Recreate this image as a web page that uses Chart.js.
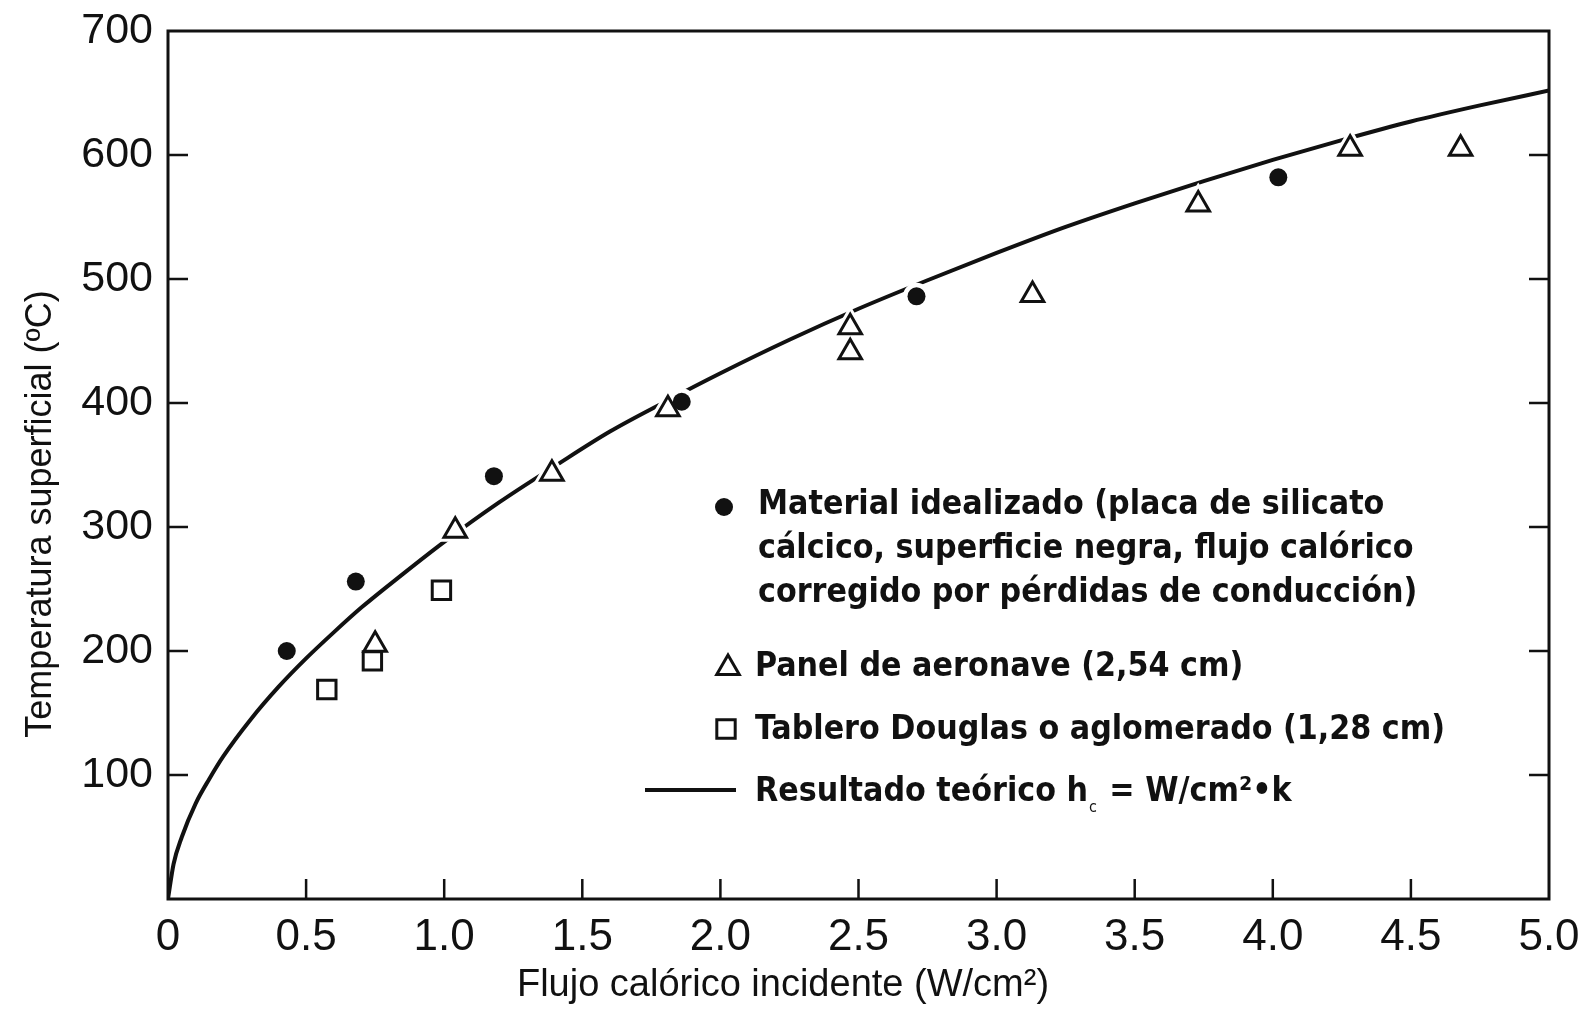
<!doctype html>
<html>
<head>
<meta charset="utf-8">
<title>Temperatura superficial vs flujo calórico</title>
<script src="https://cdn.jsdelivr.net/npm/chart.js@4.4.1/dist/chart.umd.min.js"></script>
<style>
  html, body { margin: 0; padding: 0; background: #fff; }
  canvas { display: block; }
</style>
</head>
<body>
<canvas id="canvas" width="1590" height="1009"></canvas>
<script>
// Material idealizado (círculos negros)
var idealX = [0.43, 0.68, 1.18, 1.86, 2.71, 4.02];
var idealY = [200, 256, 341, 401, 486, 582];

// Panel de aeronave (triángulos)
var panelX = [0.75, 1.04, 1.39, 1.81, 2.47, 2.47, 3.13, 3.73, 4.28, 4.68];
var panelY = [205, 297, 343, 395, 461, 441, 487, 560, 605, 605];

// Tablero Douglas o aglomerado (cuadrados)
var tableroX = [0.575, 0.74, 0.99];
var tableroY = [169, 192, 249];

// Resultado teórico (curva)
var teoricoX = [0, 0.02, 0.05, 0.1, 0.15, 0.2, 0.3, 0.4, 0.5, 0.6, 0.7, 0.85, 1.0, 1.2, 1.4, 1.6, 1.8, 2.0,
                2.25, 2.5, 2.75, 3.0, 3.25, 3.5, 3.75, 4.0, 4.25, 4.5, 4.75, 5.0];
var teoricoY = [0, 28, 50, 77, 97, 115, 145, 171, 194, 215, 235, 262, 288, 320, 349, 377, 401, 424,
                451, 476, 499, 521, 542, 561, 579, 596, 612, 627, 640, 652];

var xTitle = 'Flujo calórico incidente (W/cm²)';
var yTitle = 'Temperatura superficial (ºC)';

var legendIdeal = ['Material idealizado (placa de silicato',
                   'cálcico, superficie negra, flujo calórico',
                   'corregido por pérdidas de conducción)'];
var legendPanel = 'Panel de aeronave (2,54 cm)';
var legendTablero = 'Tablero Douglas o aglomerado (1,28 cm)';
var legendTeorico = ['Resultado teórico h', 'c', ' = W/cm²•', 'k'];

var INK = '#111';
var LEGEND_FAMILY = '"DejaVu Sans Condensed", "DejaVu Sans", sans-serif';
var AXIS_FAMILY = '"Liberation Sans", Arial, sans-serif';

function pts(xs, ys) {
    return xs.map(function(x, i) { return {x: x, y: ys[i]}; });
}

// white gaps in the curve where markers sit on it
var haloPlugin = {
    id: 'halo',
    afterDatasetDraw: function(chart, args) {
        if (args.index !== 0) return;
        var ctx = chart.ctx;
        ctx.save();
        ctx.fillStyle = '#fff';
        ctx.strokeStyle = '#fff';
        ctx.lineWidth = 9;
        [1, 2, 3].forEach(function(di) {
            var ds = chart.data.datasets[di];
            chart.getDatasetMeta(di).data.forEach(function(el) {
                Chart.helpers.drawPoint(ctx, {pointStyle: ds.pointStyle, radius: ds.pointRadius, rotation: 0, borderWidth: 9}, el.x, el.y);
            });
        });
        ctx.restore();
    }
};

// box with inward ticks
var framePlugin = {
    id: 'frame',
    beforeDatasetsDraw: function(chart) {
        var ctx = chart.ctx, a = chart.chartArea;
        var xs = chart.scales.x, ys = chart.scales.y;
        ctx.save();
        ctx.strokeStyle = INK;
        ctx.lineWidth = 3;
        ctx.strokeRect(a.left, a.top, a.right - a.left, a.bottom - a.top);
        ctx.lineWidth = 2.5;
        ctx.beginPath();
        ys.ticks.forEach(function(t) {
            if (t.value <= ys.min || t.value >= ys.max) return;
            var y = ys.getPixelForValue(t.value);
            ctx.moveTo(a.left, y); ctx.lineTo(a.left + 20, y);
            ctx.moveTo(a.right, y); ctx.lineTo(a.right - 20, y);
        });
        xs.ticks.forEach(function(t) {
            if (t.value <= xs.min || t.value >= xs.max) return;
            var x = xs.getPixelForValue(t.value);
            ctx.moveTo(x, a.bottom); ctx.lineTo(x, a.bottom - 20);
        });
        ctx.stroke();
        ctx.restore();
    }
};

// axis titles and the legend inside the plot
var textPlugin = {
    id: 'texts',
    afterDraw: function(chart) {
        var ctx = chart.ctx;
        ctx.save();
        ctx.fillStyle = INK;
        ctx.textAlign = 'center';
        ctx.textBaseline = 'middle';
        ctx.font = '38px ' + AXIS_FAMILY;
        ctx.fillText(xTitle, 783, 986);
        ctx.save();
        ctx.translate(41, 514);
        ctx.rotate(-Math.PI / 2);
        ctx.font = '36px ' + AXIS_FAMILY;
        ctx.fillText(yTitle, 0, 0);
        ctx.restore();

        // legend font sized so the first line is as wide as in the figure
        ctx.font = 'bold 34px ' + LEGEND_FAMILY;
        var size = Math.min(36, 34 * 626 / ctx.measureText(legendIdeal[0]).width);
        var font = 'bold ' + size.toFixed(1) + 'px ' + LEGEND_FAMILY;

        // markers
        ctx.strokeStyle = INK;
        ctx.lineWidth = 3;
        Chart.helpers.drawPoint(ctx, {pointStyle: 'circle', radius: 9, borderWidth: 0, rotation: 0}, 724, 507);
        ctx.fillStyle = '#fff';
        Chart.helpers.drawPoint(ctx, {pointStyle: 'triangle', radius: 13, borderWidth: 3, rotation: 0}, 728, 668);
        Chart.helpers.drawPoint(ctx, {pointStyle: 'rect', radius: 13, borderWidth: 3, rotation: 0}, 726, 729);
        ctx.lineWidth = 4;
        ctx.beginPath();
        ctx.moveTo(645, 790); ctx.lineTo(736, 790);
        ctx.stroke();

        ctx.fillStyle = INK;
        ctx.textAlign = 'left';
        ctx.font = font;
        legendIdeal.forEach(function(line, i) {
            ctx.fillText(line, 758, 505 + i * 44);
        });
        ctx.fillText(legendPanel, 755, 667);
        ctx.fillText(legendTablero, 755, 730);

        var x = 755;
        ctx.fillText(legendTeorico[0], x, 792);
        x += ctx.measureText(legendTeorico[0]).width;
        ctx.font = '16px ' + LEGEND_FAMILY;
        ctx.fillText(legendTeorico[1], x + 1, 808);
        x += ctx.measureText(legendTeorico[1]).width + 3;
        ctx.font = font;
        ctx.fillText(legendTeorico[2], x, 792);
        x += ctx.measureText(legendTeorico[2]).width;
        ctx.fillText(legendTeorico[3], x, 792);
        ctx.restore();
    }
};

var config = {
    type: 'scatter',
    data: {
        datasets: [{
            label: 'Resultado teórico',
            data: pts(teoricoX, teoricoY),
            showLine: true,
            borderColor: INK,
            borderWidth: 4,
            pointRadius: 0,
            cubicInterpolationMode: 'monotone',
            order: 10
        }, {
            label: 'Material idealizado',
            data: pts(idealX, idealY),
            pointStyle: 'circle',
            pointRadius: 9,
            backgroundColor: INK,
            borderColor: INK,
            pointBorderWidth: 0,
            order: 1
        }, {
            label: 'Panel de aeronave',
            data: pts(panelX, panelY),
            pointStyle: 'triangle',
            pointRadius: 13,
            backgroundColor: '#fff',
            borderColor: INK,
            pointBorderWidth: 3,
            order: 3
        }, {
            label: 'Tablero Douglas o aglomerado',
            data: pts(tableroX, tableroY),
            pointStyle: 'rect',
            pointRadius: 13,
            backgroundColor: '#fff',
            borderColor: INK,
            pointBorderWidth: 3,
            order: 2
        }]
    },
    options: {
        responsive: false,
        animation: false,
        layout: { padding: { left: 0, top: 31, right: 41, bottom: 0 } },
        plugins: {
            legend: { display: false },
            tooltip: { enabled: false }
        },
        scales: {
            x: {
                type: 'linear',
                min: 0,
                max: 5,
                grid: { display: false, drawTicks: false },
                border: { display: false },
                ticks: {
                    stepSize: 0.5,
                    padding: 12,
                    color: INK,
                    font: { family: AXIS_FAMILY, size: 44 },
                    callback: function(v) { return v === 0 ? '0' : v.toFixed(1); }
                },
                afterFit: function(s) { s.height = 110; s.paddingLeft = 0; s.paddingRight = 0; }
            },
            y: {
                min: 0,
                max: 700,
                grid: { display: false, drawTicks: false },
                border: { display: false },
                ticks: {
                    stepSize: 100,
                    padding: 15,
                    color: INK,
                    font: { family: AXIS_FAMILY, size: 43 },
                    callback: function(v) { return v === 0 ? '' : String(v); }
                },
                afterFit: function(s) { s.width = 168; s.paddingTop = 0; s.paddingBottom = 0; }
            }
        }
    },
    plugins: [framePlugin, haloPlugin, textPlugin]
};

window.onload = function() {
    window.myChart = new Chart(document.getElementById('canvas'), config);
};
</script>
</body>
</html>
